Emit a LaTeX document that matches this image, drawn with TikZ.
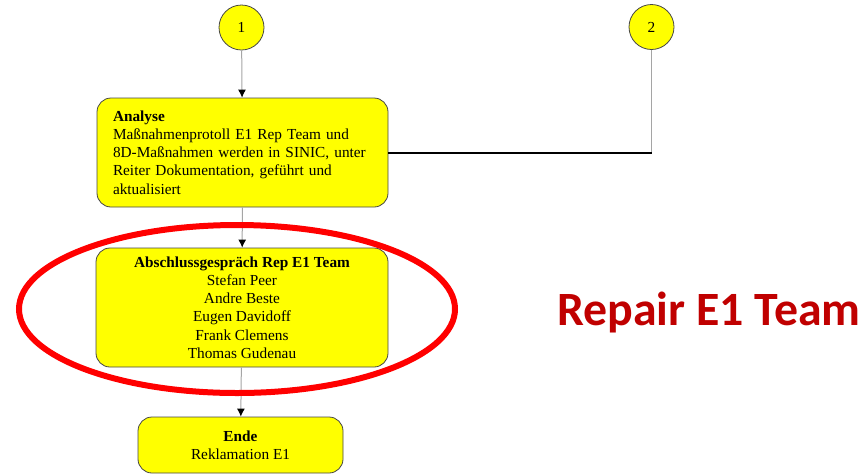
\documentclass[tikz,border=0pt]{standalone}
\usepackage{fontspec}
\setmainfont{Liberation Serif}
\newfontfamily\calibrifont{Carlito}
\usetikzlibrary{arrows.meta,positioning}
\definecolor{FlowYellow}{RGB}{255,255,0}
\definecolor{FlowEdge}{RGB}{70,70,70}
\definecolor{FlowGrey}{RGB}{165,165,165}
\definecolor{MarkRed}{RGB}{255,0,0}
\definecolor{TitleRed}{RGB}{192,0,0}

\begin{document}
\begin{tikzpicture}[
    x=1pt,y=-1pt,
    font=\fontsize{15.3}{18.2}\selectfont,
    connector/.style={draw=FlowEdge,fill=FlowYellow,circle,minimum size=45pt,inner sep=0pt,line width=0.8pt},
    box/.style={draw=FlowEdge,fill=FlowYellow,rounded corners=14pt,line width=0.8pt,inner sep=0pt},
    arr/.style={-{Latex[length=8pt,width=8pt,color=black]},draw=FlowGrey,line width=1pt},
    link/.style={draw=FlowGrey,line width=1pt}
  ]
    \useasboundingbox (0,0) rectangle (867,475);
    \node[connector] (one) at (241.5,27.5) {1};
    \node[connector] (two) at (651.5,27) {2};
    \node[box,minimum width=291pt,minimum height=109pt,text width=273pt,align=left] (analyse) at (242.5,152.5)
      {\hspace*{7pt}\parbox[t]{266pt}{\textbf{Analyse}\\Maßnahmenprotoll E1 Rep Team und\\8D-Maßnahmen werden in SINIC, unter\\Reiter Dokumentation, geführt und\\aktualisiert}};
    \node[box,minimum width=292pt,minimum height=119pt,align=center] (abschluss) at (242,307.5)
      {\textbf{Abschlussgespräch Rep E1 Team}\\Stefan Peer\\Andre Beste\\Eugen Davidoff\\Frank Clemens\\Thomas Gudenau};
    \node[box,minimum width=205pt,minimum height=56pt,align=center] (ende) at (240.5,445)
      {\textbf{Ende}\\Reklamation E1};
    \node[font=\calibrifont\bfseries\fontsize{47.8}{52}\selectfont,text=TitleRed,inner sep=0pt,anchor=base west] (title) at (557,325) {Repair E1 Team};
    \coordinate (bend) at (two |- analyse.east);
    \draw[arr] (one) -- (analyse);
    \draw[arr] (analyse) -- (abschluss);
    \draw[arr] (abschluss) -- (ende);
    \draw[link] (two) -- (bend);
    \draw[black,line width=2pt] (bend) -- (analyse.east);
    % markierung um das abschlussgespraech
    \draw[MarkRed,line width=6pt] (237,309) ellipse (218 and 84);
  \end{tikzpicture}
\end{document}
